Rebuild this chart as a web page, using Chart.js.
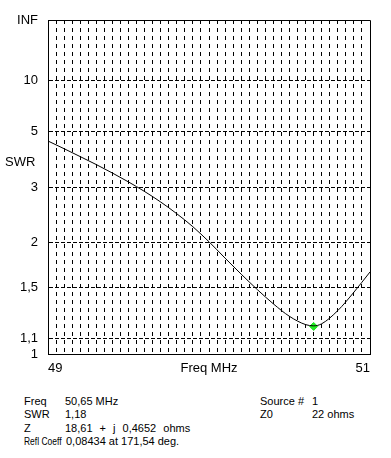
<!DOCTYPE html>
<html>
<head>
<meta charset="utf-8">
<script src="https://cdn.jsdelivr.net/npm/chart.js@4"></script>
<style>
  body { margin: 0; background: #fff; }
  #wrap { position: relative; width: 391px; height: 458px; }
  #chart { position: absolute; left: 0; top: 0; }
  .info { position: absolute; font: 11px "Liberation Sans", Arial, sans-serif; color: #000; white-space: nowrap; }
  .narrow { transform: scaleX(0.77); transform-origin: 0 50%; }
</style>
</head>
<body>
<div id="wrap">
  <canvas id="chart" width="391" height="392"></canvas>
  <div class="info" style="left:24px;top:395px">Freq</div>
  <div class="info" style="left:65px;top:395px">50,65 MHz</div>
  <div class="info" style="left:24px;top:408px">SWR</div>
  <div class="info" style="left:65px;top:408px">1,18</div>
  <div class="info" style="left:24px;top:422px">Z</div>
  <div class="info" style="left:65px;top:422px;word-spacing:4px">18,61 + j 0,4652 ohms</div>
  <div class="info narrow" style="left:24px;top:435px">Refl Coeff</div>
  <div class="info" style="left:66px;top:435px">0,08434 at 171,54 deg.</div>
  <div class="info" style="left:260px;top:395px">Source #</div>
  <div class="info" style="left:312px;top:395px">1</div>
  <div class="info" style="left:260px;top:408px">Z0</div>
  <div class="info" style="left:312px;top:408px">22 ohms</div>
</div>
<script>
// sweep (MHz / SWR)
let freqs = [49.0, 49.1, 49.2, 49.3, 49.4, 49.5, 49.6, 49.7, 49.8, 49.9, 50.0,
             50.1, 50.2, 50.3, 50.4, 50.5, 50.6, 50.65, 50.7, 50.8, 50.9, 51.0];
let swr = [4.52, 4.19, 3.89, 3.62, 3.365, 3.125, 2.895, 2.67, 2.448, 2.231, 2.012,
           1.805, 1.628, 1.478, 1.353, 1.254, 1.193, 1.184, 1.199, 1.299, 1.454, 1.651];

let markerFreq = 50.65;
let markerSwr = 1.18;

// y axis is linear in reflection coefficient, labelled in SWR
let swrTicks = [1, 1.1, 1.5, 2, 3, 5, 10, Infinity];
let swrTickLabels = ['1', '1,1', '1,5', '2', '3', '5', '10', 'INF'];

let freqMin = 49, freqMax = 51, freqDivs = 40;
let freqLabels = {0: '49', 20: 'Freq MHz', 40: '51'};

function toRho(s) {
    if (!isFinite(s)) return 1;
    return (s - 1) / (s + 1);
}

let points = freqs.map((f, i) => ({x: f, y: toRho(swr[i])}));
let tickFont = {family: '"Liberation Sans", Arial, sans-serif', size: 13};

let framePlugin = {
    id: 'frame',
    afterDraw(chart) {
        let {ctx, chartArea: a} = chart;
        let yScale = chart.scales.y;
        ctx.save();
        ctx.strokeStyle = '#000';
        ctx.lineWidth = 1;
        ctx.beginPath();
        ctx.moveTo(Math.round(a.left), Math.round(a.top) + 0.5);
        ctx.lineTo(Math.round(a.right) + 0.5, Math.round(a.top) + 0.5);
        ctx.lineTo(Math.round(a.right) + 0.5, Math.round(a.bottom));
        ctx.stroke();
        // axis name sits between the 5 and 3 labels
        ctx.fillStyle = '#000';
        ctx.font = '13px "Liberation Sans", Arial, sans-serif';
        ctx.textAlign = 'left';
        ctx.textBaseline = 'middle';
        ctx.fillText('SWR', 5, yScale.getPixelForValue(toRho(3.7)));
        ctx.restore();
    }
};

new Chart('chart', {
    type: 'line',
    data: {
        datasets: [{
            data: points,
            borderColor: '#000',
            borderWidth: 1,
            pointRadius: 0,
            cubicInterpolationMode: 'monotone'
        }, {
            data: [{x: markerFreq, y: toRho(markerSwr)}],
            showLine: false,
            pointStyle: 'rectRot',
            pointRadius: 4,
            pointBackgroundColor: '#22ee22',
            pointBorderColor: '#22dd22',
            pointBorderWidth: 1
        }]
    },
    options: {
        responsive: false,
        animation: false,
        layout: {padding: {top: 20, right: 21, left: 0, bottom: 0}},
        plugins: {legend: {display: false}, tooltip: {enabled: false}},
        scales: {
            x: {
                type: 'linear',
                min: freqMin,
                max: freqMax,
                afterBuildTicks(scale) {
                    let t = [];
                    for (let i = 0; i <= freqDivs; i++) {
                        t.push({value: freqMin + (freqMax - freqMin) * i / freqDivs});
                    }
                    scale.ticks = t;
                },
                afterFit(scale) { scale.height = 38; },
                ticks: {
                    autoSkip: false,
                    maxRotation: 0,
                    align: 'inner',
                    padding: 7,
                    color: '#000',
                    font: tickFont,
                    callback: (v, i) => freqLabels[i] || ''
                },
                grid: {
                    drawTicks: false,
                    color: c => (c.index === 0 || c.index === freqDivs) ? 'rgba(0,0,0,0)' : '#000'
                },
                border: {color: '#000', width: 1, dash: [4, 4]}
            },
            y: {
                type: 'linear',
                min: 0,
                max: 1,
                afterBuildTicks(scale) {
                    scale.ticks = swrTicks.map(s => ({value: toRho(s)}));
                },
                afterFit(scale) { scale.width = 48; },
                ticks: {
                    autoSkip: false,
                    padding: 10,
                    color: '#000',
                    font: tickFont,
                    callback: (v, i) => swrTickLabels[i]
                },
                grid: {
                    drawTicks: false,
                    color: c => (c.index === 0 || c.index === swrTicks.length - 1) ? 'rgba(0,0,0,0)' : '#000'
                },
                border: {color: '#000', width: 1, dash: [4, 2]}
            }
        }
    },
    plugins: [framePlugin]
});
</script>
</body>
</html>
